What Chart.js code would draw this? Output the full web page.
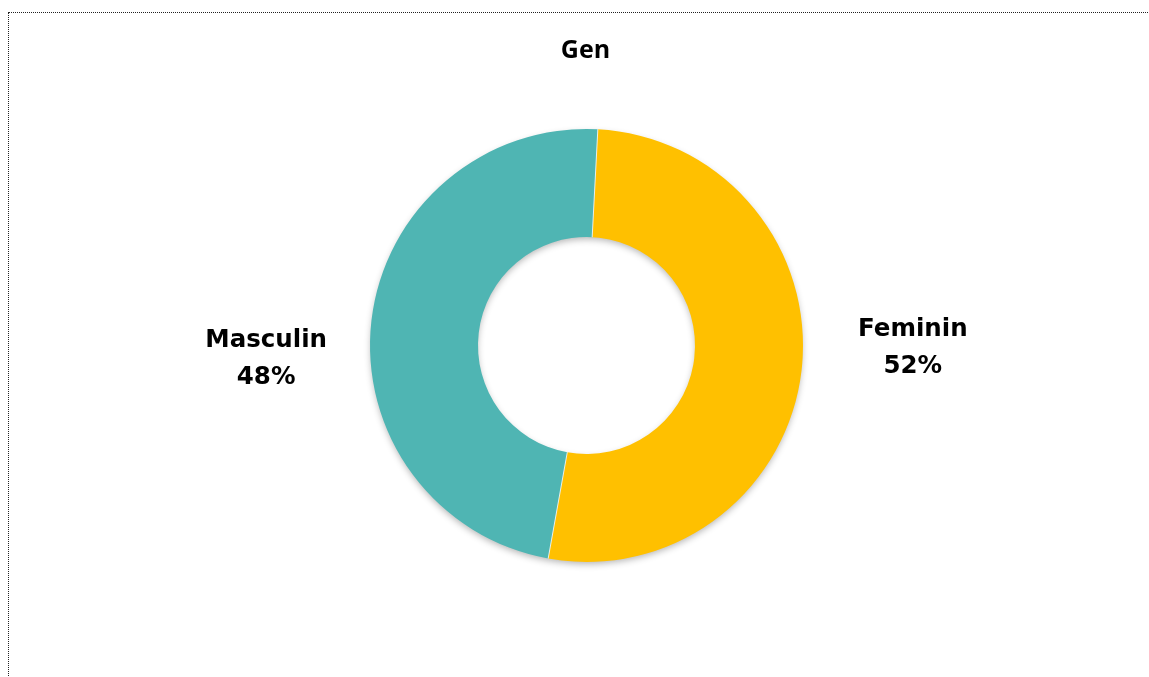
<!DOCTYPE html>
<html>
<head>
<meta charset="utf-8">
<script src="https://cdn.jsdelivr.net/npm/chart.js@4"></script>
<style>
  html, body { margin: 0; padding: 0; background: #fff; overflow: hidden; }
  #wrap { position: relative; width: 1149px; height: 677px; }
  #frame { position: absolute; left: 8px; top: 12px; width: 1200px; height: 720px; border: 1px dotted #222; box-sizing: border-box; }
  canvas { position: absolute; left: 0; top: 0; }
</style>
</head>
<body>
<div id="wrap">
  <div id="frame"></div>
  <canvas id="c" width="1149" height="677"></canvas>
</div>
<script>
const chartTitle = 'Gen';
const categories = ['Feminin', 'Masculin'];
const values = [52, 48];
const sliceColors = ['#FFC000', '#4FB5B3'];

const shadowPlugin = {
  id: 'ringShadow',
  beforeDatasetsDraw(chart) {
    const meta = chart.getDatasetMeta(0);
    if (!meta.data.length) return;
    const a = meta.data[0];
    const ctx = chart.ctx;
    ctx.save();
    ctx.shadowColor = 'rgba(0,0,0,0.30)';
    ctx.shadowBlur = 7;
    ctx.shadowOffsetY = 3;
    ctx.fillStyle = '#9ab';
    ctx.beginPath();
    ctx.arc(a.x, a.y, a.outerRadius - 1, 0, Math.PI * 2);
    ctx.arc(a.x, a.y, a.innerRadius + 1, 0, Math.PI * 2, true);
    ctx.fill();
    ctx.restore();
  },
  afterDatasetsDraw(chart) {
    const meta = chart.getDatasetMeta(0);
    const ctx = chart.ctx;
    ctx.save();
    ctx.strokeStyle = 'rgba(255,255,255,0.8)';
    ctx.lineWidth = 1;
    meta.data.forEach(arc => {
      const t = arc.startAngle;
      ctx.beginPath();
      ctx.moveTo(arc.x + arc.innerRadius * Math.cos(t), arc.y + arc.innerRadius * Math.sin(t));
      ctx.lineTo(arc.x + arc.outerRadius * Math.cos(t), arc.y + arc.outerRadius * Math.sin(t));
      ctx.stroke();
    });
    ctx.restore();
  }
};

const labelPlugin = {
  id: 'outLabels',
  afterDraw(chart) {
    const ctx = chart.ctx;
    const meta = chart.getDatasetMeta(0);
    const total = values.reduce((s, v) => s + v, 0);
    ctx.save();
    ctx.fillStyle = '#000';
    ctx.textAlign = 'center';
    ctx.textBaseline = 'alphabetic';
    const a0 = meta.data[0];
    ctx.font = 'bold 25px "Open Sans"';
    ctx.fillText(chartTitle, a0.x - 1, 58);
    ctx.font = 'bold 24.5px "DejaVu Sans"';
    const yShift = [-9.5, 1.5];
    const gap = [112, 106];
    meta.data.forEach((arc, i) => {
      const mid = (arc.startAngle + arc.endAngle) / 2;
      const dist = arc.outerRadius + gap[i];
      const x = arc.x + dist * Math.cos(mid);
      const y = arc.y + yShift[i];
      const pct = Math.round(values[i] / total * 100) + '%';
      ctx.fillText(categories[i], x, y);
      ctx.fillText(pct, x, y + 37);
    });
    ctx.restore();
  }
};

function build() {
  new Chart(document.getElementById('c'), {
    type: 'doughnut',
    data: {
      labels: categories,
      datasets: [{
        data: values,
        backgroundColor: sliceColors,
        borderWidth: 0
      }]
    },
    options: {
      responsive: false,
      animation: false,
      rotation: 3,
      radius: 216.5,
      cutout: 108.5,
      layout: { padding: { left: 370, right: 346, top: 129, bottom: 115 } },
      plugins: {
        legend: { display: false },
        tooltip: { enabled: false },
        title: { display: false }
      }
    },
    plugins: [shadowPlugin, labelPlugin]
  });
}

Promise.all([
  document.fonts.load('bold 25px "Open Sans"'),
  document.fonts.load('bold 24px "DejaVu Sans"')
]).then(build, build);
</script>
</body>
</html>
